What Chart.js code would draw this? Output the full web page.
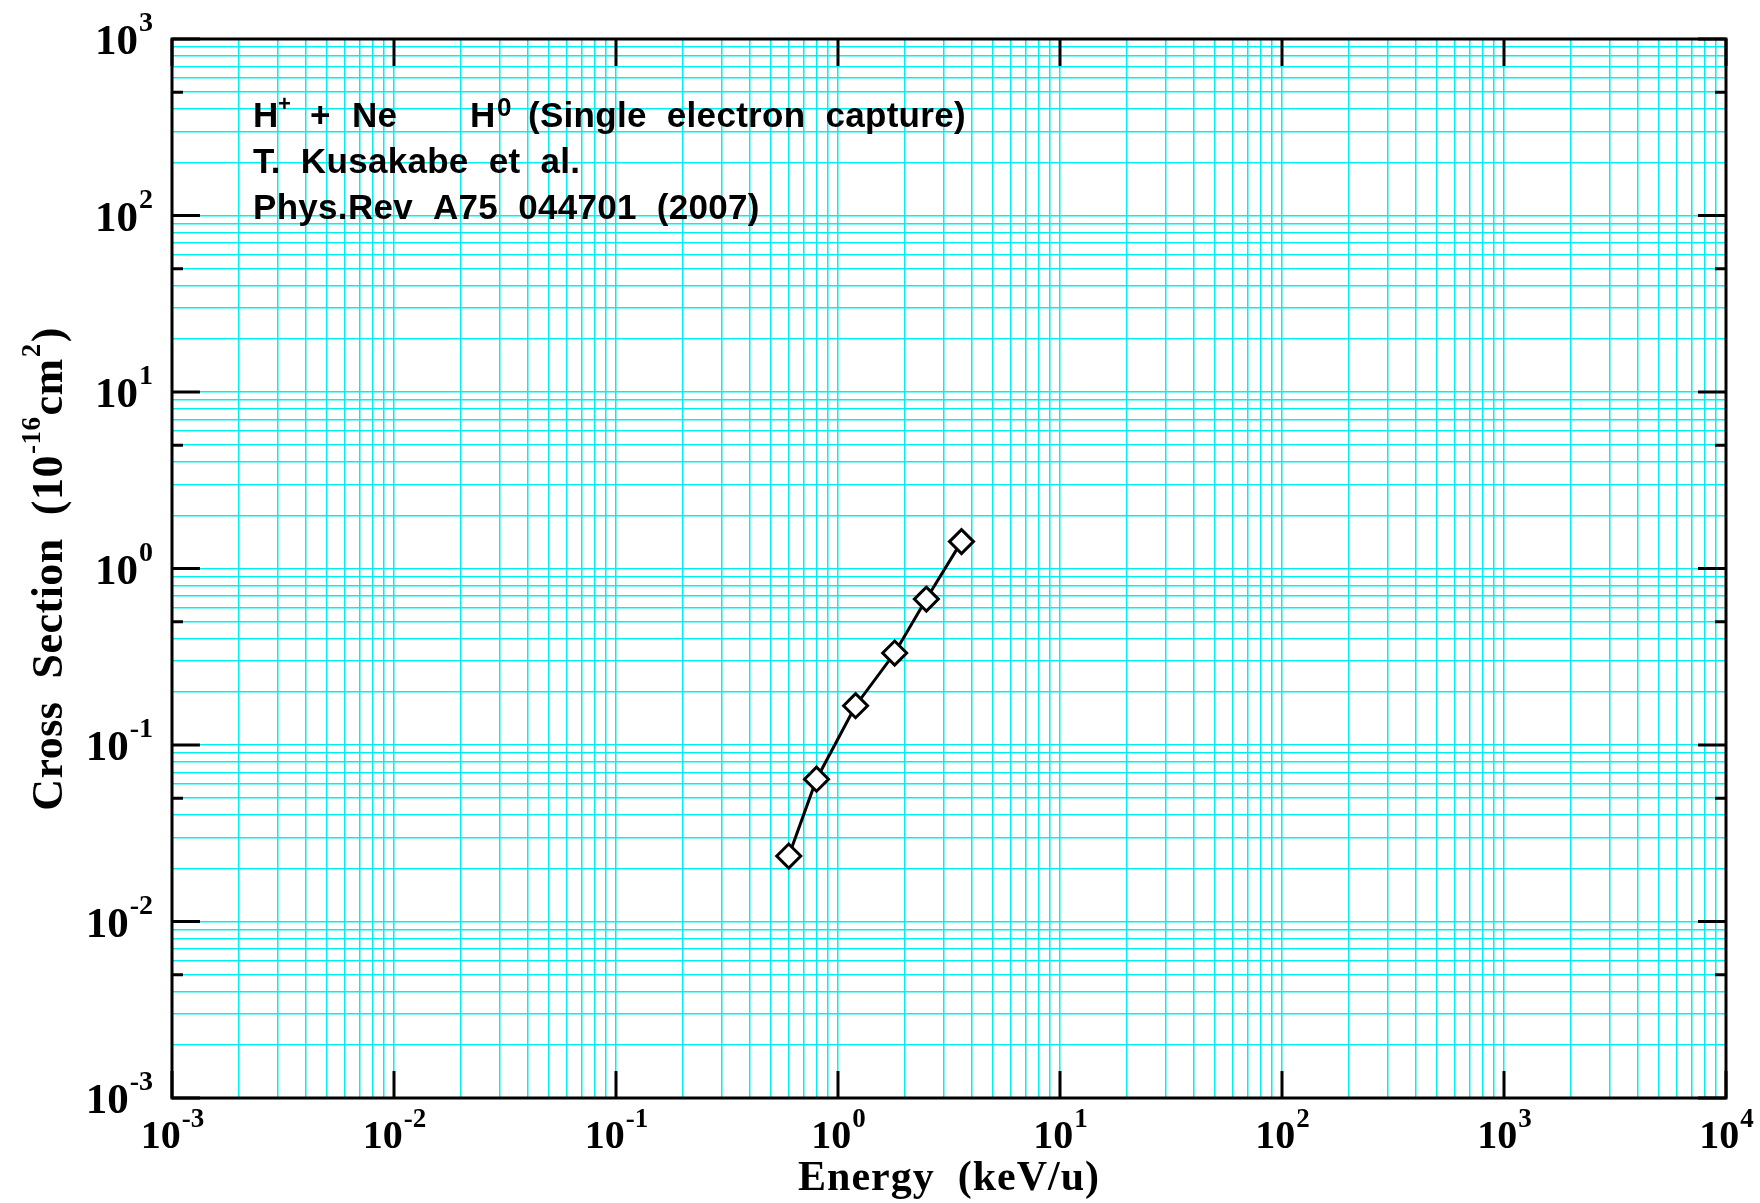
<!DOCTYPE html>
<html>
<head>
<meta charset="utf-8">
<script src="https://cdn.jsdelivr.net/npm/chart.js@4/dist/chart.umd.min.js"></script>
<style>
  body { margin: 0; background: #fff; }
  canvas { display: block; }
</style>
</head>
<body>
<canvas id="chart" width="1760" height="1203"></canvas>
<script>
// data
const energy = [0.6, 0.8, 1.2, 1.8, 2.5, 3.6];            // keV/u
const crossSection = [0.0235, 0.064, 0.167, 0.332, 0.671, 1.42]; // 1e-16 cm^2

// axis decades (exponents) and the in-decade grid steps
const xExponents = [-3, -2, -1, 0, 1, 2, 3, 4];
const yExponents = [-3, -2, -1, 0, 1, 2, 3];
const gridSteps = [1, 2, 3, 4, 5, 6, 7, 8, 9];

const noteLines = ["T.  Kusakabe  et  al.", "Phys.Rev  A75  044701  (2007)"];

function gridValues(exps) {
    let vals = [];
    exps.forEach((e, i) => {
        if (i === exps.length - 1) { vals.push(Math.pow(10, e)); return; }
        gridSteps.forEach(s => vals.push(s * Math.pow(10, e)));
    });
    return vals;
}

const CYAN = "#00f0f0";
const SERIF = '"Liberation Serif", "Times New Roman", serif';
const SANS = '"Liberation Sans", Arial, sans-serif';

function powerLabel(ctx, exp, x, y, size, supSize, raise, align) {
    ctx.font = "bold " + size + "px " + SERIF;
    let w1 = ctx.measureText("10").width;
    ctx.font = "bold " + supSize + "px " + SERIF;
    let w2 = ctx.measureText(String(exp)).width;
    let start = align === "center" ? x - (w1 + w2) / 2 : x - (w1 + w2);
    ctx.font = "bold " + size + "px " + SERIF;
    ctx.fillText("10", start, y);
    ctx.font = "bold " + supSize + "px " + SERIF;
    ctx.fillText(String(exp), start + w1 + 1, y - raise);
}

const framePlugin = {
    id: "frame",
    afterDatasetsDraw(chart) {
        const ctx = chart.ctx;
        const a = chart.chartArea;
        const xs = chart.scales.x, ys = chart.scales.y;
        ctx.save();
        ctx.strokeStyle = "#000";
        ctx.lineWidth = 3;
        ctx.strokeRect(a.left, a.top, a.right - a.left, a.bottom - a.top);

        // inner tick marks, all four sides
        ctx.beginPath();
        xExponents.forEach(e => {
            let px = xs.getPixelForValue(Math.pow(10, e));
            ctx.moveTo(px, a.bottom); ctx.lineTo(px, a.bottom - 27);
            ctx.moveTo(px, a.top); ctx.lineTo(px, a.top + 27);
        });
        yExponents.forEach(e => {
            let py = ys.getPixelForValue(Math.pow(10, e));
            ctx.moveTo(a.left, py); ctx.lineTo(a.left + 28, py);
            ctx.moveTo(a.right, py); ctx.lineTo(a.right - 28, py);
            if (e < yExponents[yExponents.length - 1]) {
                let pm = ys.getPixelForValue(5 * Math.pow(10, e));
                ctx.moveTo(a.left, pm); ctx.lineTo(a.left + 11, pm);
                ctx.moveTo(a.right, pm); ctx.lineTo(a.right - 11, pm);
            }
        });
        ctx.stroke();

        // tick labels 10^n
        ctx.fillStyle = "#000";
        ctx.textBaseline = "alphabetic";
        ctx.textAlign = "left";
        xExponents.forEach(e => {
            let px = xs.getPixelForValue(Math.pow(10, e));
            powerLabel(ctx, e, px, a.bottom + 50, 40, 27, 21, "center");
        });
        yExponents.forEach(e => {
            let py = ys.getPixelForValue(Math.pow(10, e));
            powerLabel(ctx, e, a.left - 20, py + 15, 43, 28, 23, "right");
        });

        // axis titles
        ctx.font = "bold 42px " + SERIF;
        ctx.textAlign = "center";
        ctx.letterSpacing = "1px";
        ctx.fillText("Energy  (keV/u)", (a.left + a.right) / 2, a.bottom + 92);

        ctx.save();
        ctx.translate(62, (a.top + a.bottom) / 2);
        ctx.rotate(-Math.PI / 2);
        ctx.textAlign = "left";
        ctx.letterSpacing = "0.5px";
        let parts = [["Cross  Section  (10", 44, 0], ["-16", 27, 22], ["cm", 44, 0], ["2", 27, 22], [")", 44, 0]];
        let total = 0;
        parts.forEach(p => { ctx.font = "bold " + p[1] + "px " + SERIF; total += ctx.measureText(p[0]).width + 1; });
        let cx = -total / 2;
        parts.forEach(p => {
            ctx.font = "bold " + p[1] + "px " + SERIF;
            ctx.fillText(p[0], cx, -p[2]);
            cx += ctx.measureText(p[0]).width + 1;
        });
        ctx.restore();

        // annotation text
        ctx.textAlign = "left";
        ctx.letterSpacing = "0.3px";
        let x0 = a.left + 81, b1 = a.top + 88;
        let big = "bold 35px " + SANS;
        ctx.font = big; ctx.fillText("H", x0, b1);
        ctx.font = "bold 22px " + SANS; ctx.fillText("+", x0 + 25, b1 - 16);
        ctx.font = big; ctx.fillText("+", x0 + 57, b1);
        ctx.fillText("Ne", x0 + 99, b1);
        ctx.fillText("H", x0 + 217, b1);
        ctx.font = "bold 26px " + SANS; ctx.fillText("0", x0 + 244, b1 - 11);
        ctx.font = big; ctx.fillText("(Single  electron  capture)", x0 + 275, b1);
        noteLines.forEach((t, i) => ctx.fillText(t, x0, b1 + 46 + 45.5 * i));
        ctx.restore();
    }
};

const gridOpts = {
    color: CYAN,
    lineWidth: 1.5,
    drawTicks: false
};

new Chart(document.getElementById("chart"), {
    type: "scatter",
    data: {
        datasets: [{
            data: energy.map((e, i) => ({ x: e, y: crossSection[i] })),
            showLine: true,
            borderColor: "#000",
            borderWidth: 3,
            pointStyle: "rectRot",
            pointRadius: 12,
            pointBackgroundColor: "#fff",
            pointBorderColor: "#000",
            pointBorderWidth: 3
        }]
    },
    options: {
        responsive: false,
        animation: false,
        devicePixelRatio: 1,
        layout: { padding: { left: 172, right: 34, top: 39, bottom: 105 } },
        plugins: { legend: { display: false }, tooltip: { enabled: false } },
        scales: {
            x: {
                type: "logarithmic",
                min: 1e-3, max: 1e4,
                ticks: { display: false, autoSkip: false },
                grid: gridOpts,
                border: { display: false },
                afterBuildTicks: s => { s.ticks = gridValues(xExponents).map(v => ({ value: v })); }
            },
            y: {
                type: "logarithmic",
                min: 1e-3, max: 1e3,
                ticks: { display: false, autoSkip: false },
                grid: gridOpts,
                border: { display: false },
                afterBuildTicks: s => { s.ticks = gridValues(yExponents).map(v => ({ value: v })); }
            }
        }
    },
    plugins: [framePlugin]
});
</script>
</body>
</html>
